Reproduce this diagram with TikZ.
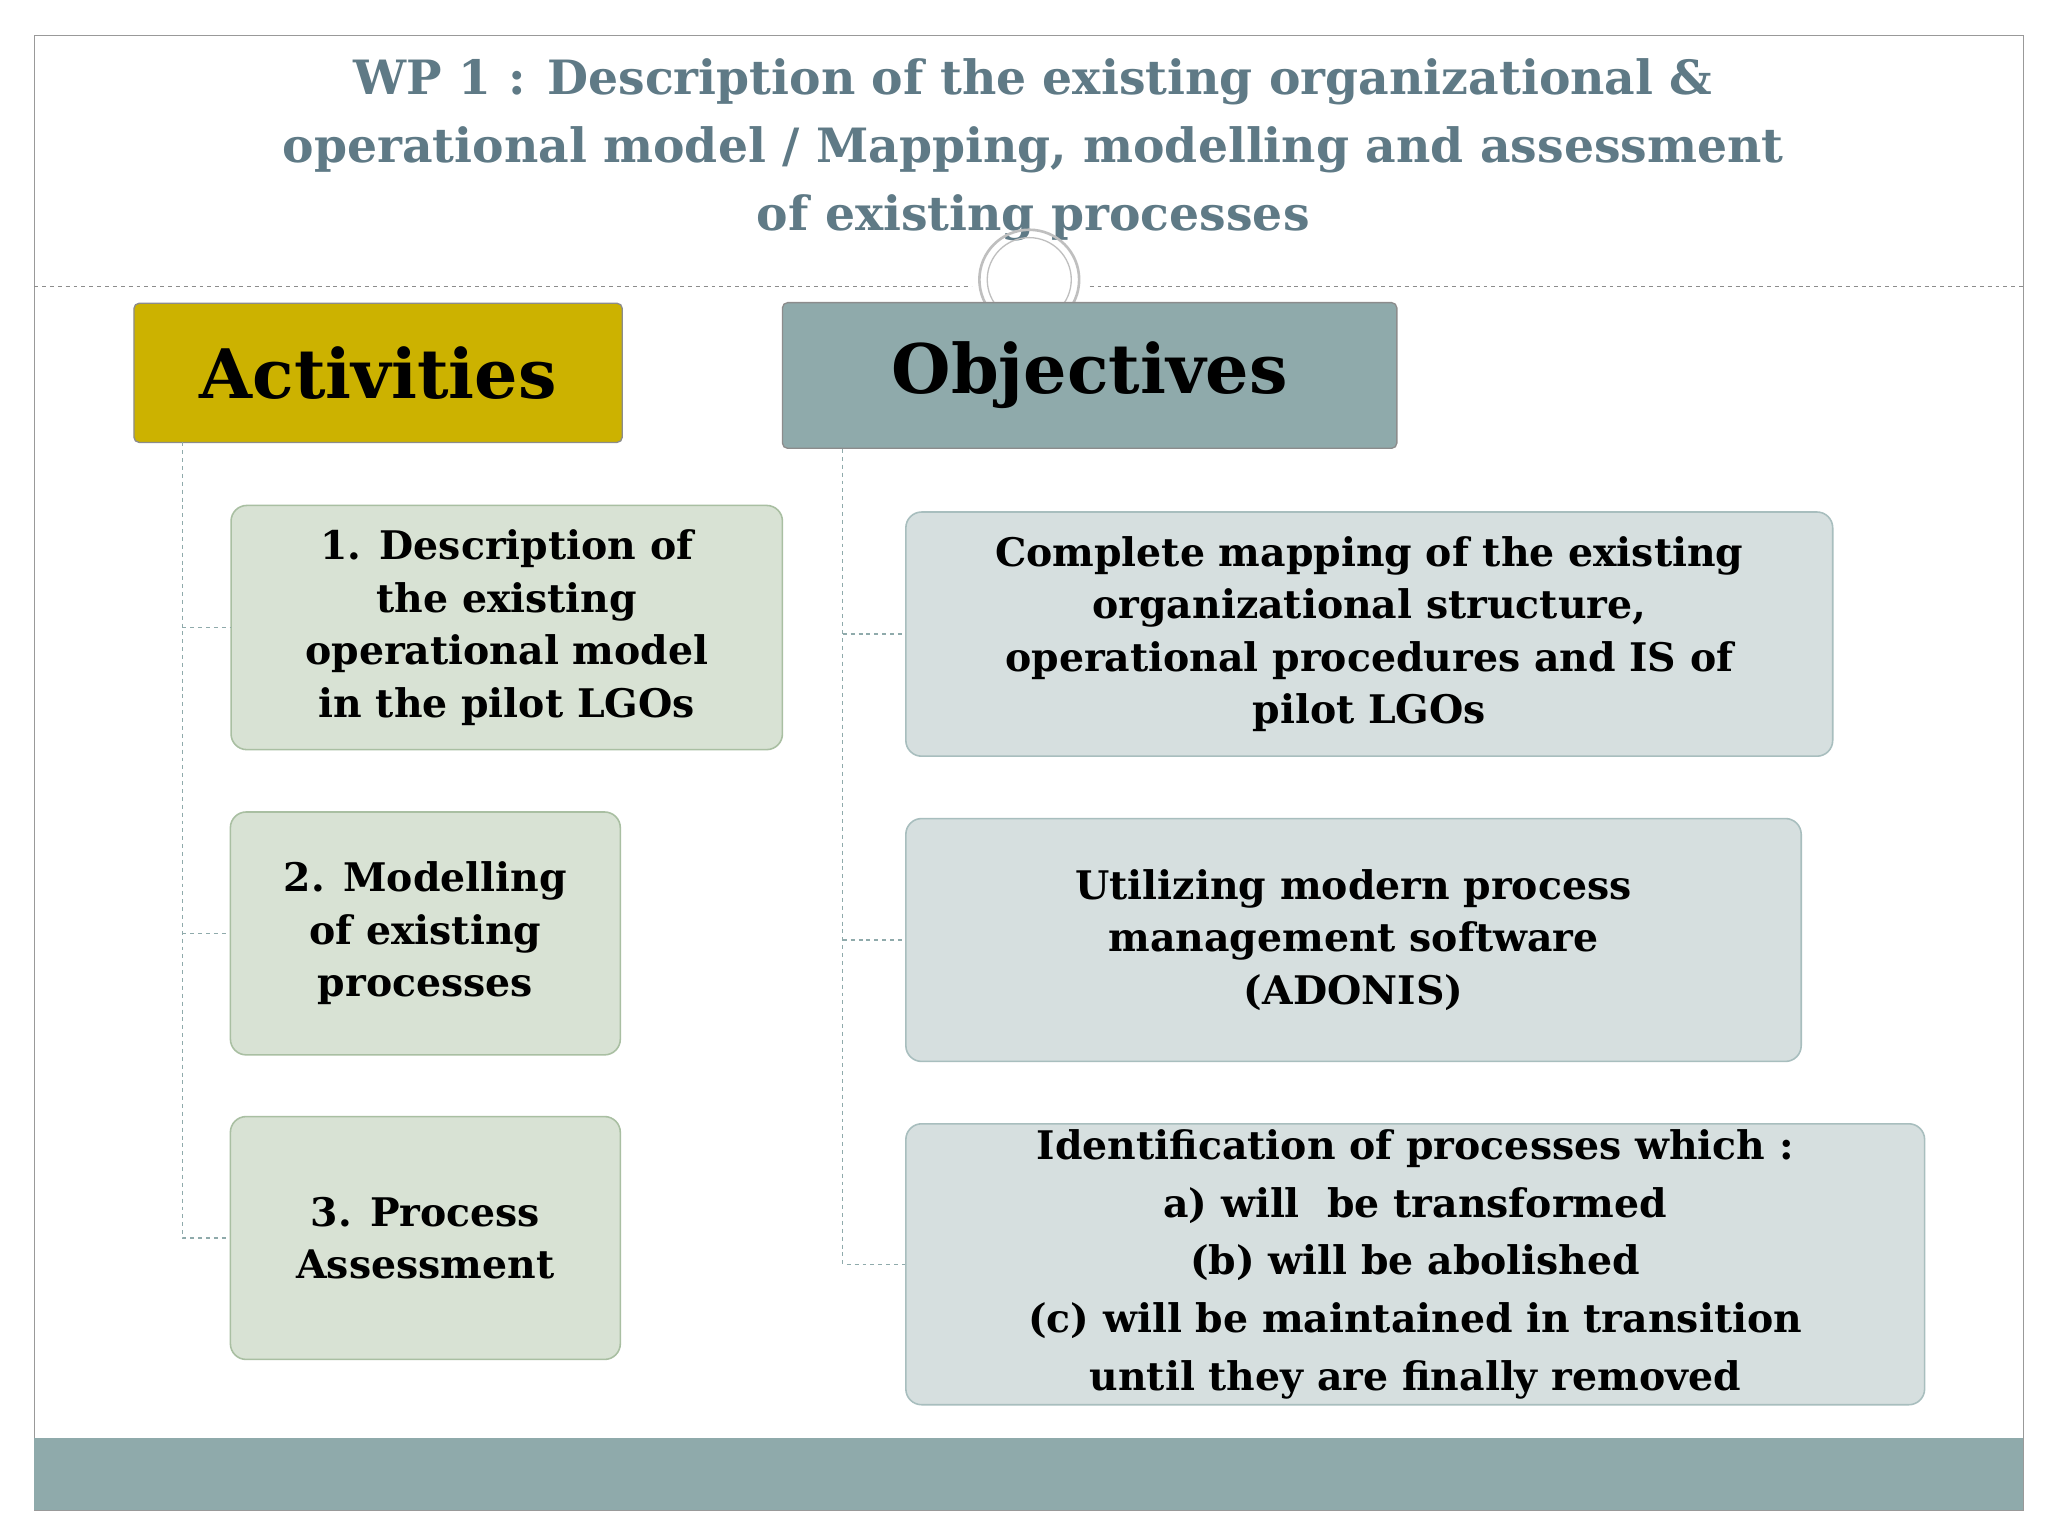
\documentclass[tikz,border=0pt]{standalone}
\usepackage{fontspec}
\setmainfont{DejaVu Serif}
\definecolor{titlec}{HTML}{5F7A86}
\definecolor{gold}{HTML}{CCB200}
\definecolor{teal}{HTML}{8FAAAB}
\definecolor{actf}{HTML}{D8E2D4}
\definecolor{actd}{HTML}{A9BFA2}
\definecolor{objf}{HTML}{D6DFDF}
\definecolor{objd}{HTML}{A8BEBE}
\begin{document}
\begin{tikzpicture}[x=1pt,y=-1pt,
  hdr/.style={draw=black!45,rounded corners=4pt,line width=1pt,font=\bfseries\fontsize{52}{56}\selectfont,inner sep=0},
  act/.style={draw=actd,fill=actf,rounded corners=12pt,line width=1.2pt,align=center,font=\bfseries\fontsize{30}{40}\selectfont,inner sep=0},
  obj/.style={draw=objd,fill=objf,rounded corners=12pt,line width=1.2pt,align=center,font=\bfseries\fontsize{30}{40}\selectfont,inner sep=0},
  conn/.style={draw=teal,dashed,line width=1pt}]
\useasboundingbox (0,0) rectangle (1560,1170);
\fill[white] (0,0) rectangle (1560,1170);
\draw[black!40] (26,27) rectangle (1541,1150);
\fill[teal] (26,1095) rectangle (1541,1150);
\node[text=titlec,align=center,font=\bfseries\fontsize{36}{52}\selectfont] (title) at (787,114)
 {WP 1 : Description of the existing organizational \&\\operational model / Mapping, modelling and assessment\\of existing processes};
\draw[black!45,dashed] (26,218) -- (740,218) (830,218) -- (1541,218);
\draw[black!25,line width=2pt] (784,213) circle (38);
\draw[black!25,line width=1pt] (784,213) circle (32);
\node[hdr,fill=gold,minimum width=372,minimum height=106] (A) at (288,284) {Activities};
\node[hdr,fill=teal,minimum width=468,minimum height=111] (O) at (830,286) {Objectives};
\node[act,minimum width=420,minimum height=186] (a1) at (386,478) {1. Description of\\the existing\\operational model\\in the pilot LGOs};
\node[act,minimum width=297,minimum height=185] (a2) at (324,711) {2. Modelling\\of existing\\processes};
\node[act,minimum width=297,minimum height=185] (a3) at (324,943) {3. Process\\Assessment};
\node[obj,minimum width=706,minimum height=186] (o1) at (1043,483) {Complete mapping of the existing\\organizational structure,\\operational procedures and IS of\\pilot LGOs};
\node[obj,minimum width=682,minimum height=185] (o2) at (1031,716) {Utilizing modern process\\management software\\(ADONIS)};
\node[obj,minimum width=776,minimum height=214,font=\bfseries\fontsize{30}{44}\selectfont] (o3) at (1078,963) {Identification of processes which :\\a) will\ \ be transformed\\(b) will be abolished\\(c) will be maintained in transition\\until they are finally removed};
\coordinate (la) at (139,337);
\coordinate (lo) at (642,342);
\draw[conn] (la) |- (a3.west);
\draw[conn] (la |- a1.west) -- (a1.west);
\draw[conn] (la |- a2.west) -- (a2.west);
\draw[conn] (lo) |- (o3.west);
\draw[conn] (lo |- o1.west) -- (o1.west);
\draw[conn] (lo |- o2.west) -- (o2.west);
\end{tikzpicture}
\end{document}
